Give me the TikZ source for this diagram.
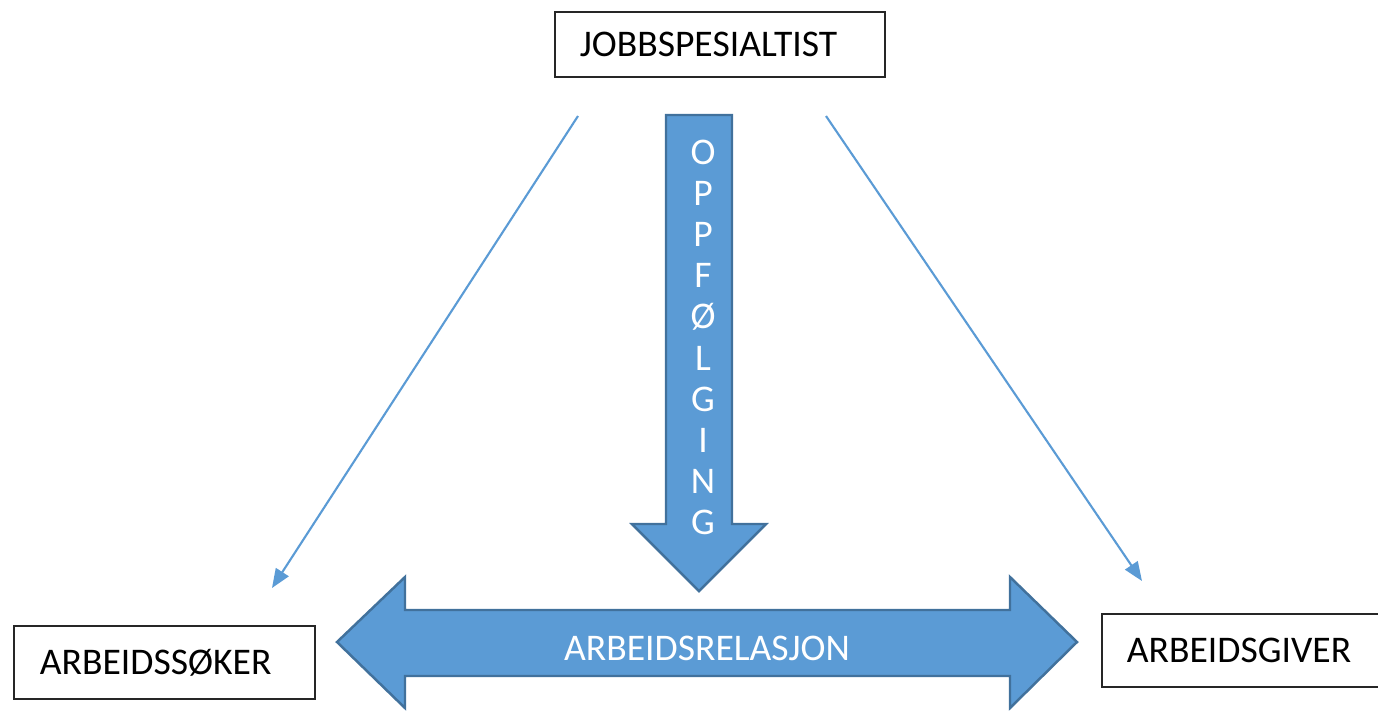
\documentclass[tikz,border=0pt]{standalone}
\usepackage{fontspec}
\setmainfont{Carlito}
\usetikzlibrary{arrows.meta}
\definecolor{fillblue}{HTML}{5B9BD5}
\definecolor{edgeblue}{HTML}{41719C}

\begin{document}
\begin{tikzpicture}[x=0.01cm,y=-0.01cm,
	every node/.style={font=\fontsize{10.7}{12}\selectfont},
	rolebox/.style={draw=black!85,line width=0.6pt,align=left,inner ysep=0pt,minimum height=0.65cm},
	bigarrow/.style={fill=fillblue,draw=edgeblue,line width=0.7pt,line join=miter},
	thinarrow/.style={fillblue,line width=0.6pt,-{Triangle[length=0.19cm,width=0.15cm]}},
	whitetext/.style={text=white,inner sep=0pt}]
		\useasboundingbox (0,0) rectangle (1378,711);
		% roles
		\node[rolebox,text width=2.8cm,inner xsep=0.25cm] (spes) at (720,44.5) {JOBBSPESIALTIST};
		\node[rolebox,text width=2.49cm,inner xsep=0.26cm,minimum height=0.73cm] (soker) at (164.5,662.5) {ARBEIDSSØKER};
		\node[rolebox,text width=2.5cm,inner xsep=0.25cm,minimum height=0.73cm] (giver) at (1252,650.5) {ARBEIDSGIVER};
		% thin arrows
		\coordinate (ls) at (578,116);
		\coordinate (le) at (272,588);
		\coordinate (rs) at (826,116);
		\coordinate (re) at (1142,581);
		\draw[thinarrow] (ls)--(le);
		\draw[thinarrow] (rs)--(re);
		% block arrows
		\draw[bigarrow] (666,115)--(732,115)--(732,524)--(766,524)--(699,591)--(632,524)--(666,524)--cycle;
		\draw[bigarrow] (337,642)--(405,577)--(405,610)--(1010,610)--(1010,577)--(1077,642)--(1010,708)--(1010,676)--(405,676)--(405,708)--cycle;
		% labels
		\foreach \c [count=\i from 0] in {O,P,P,F,Ø,L,G,I,N,G}
		{\node[whitetext] (opp\i) at (703,152+41.2*\i) {\c};}
		\node[whitetext] (relasjon) at (707,648) {ARBEIDSRELASJON};
	\end{tikzpicture}
\end{document}
